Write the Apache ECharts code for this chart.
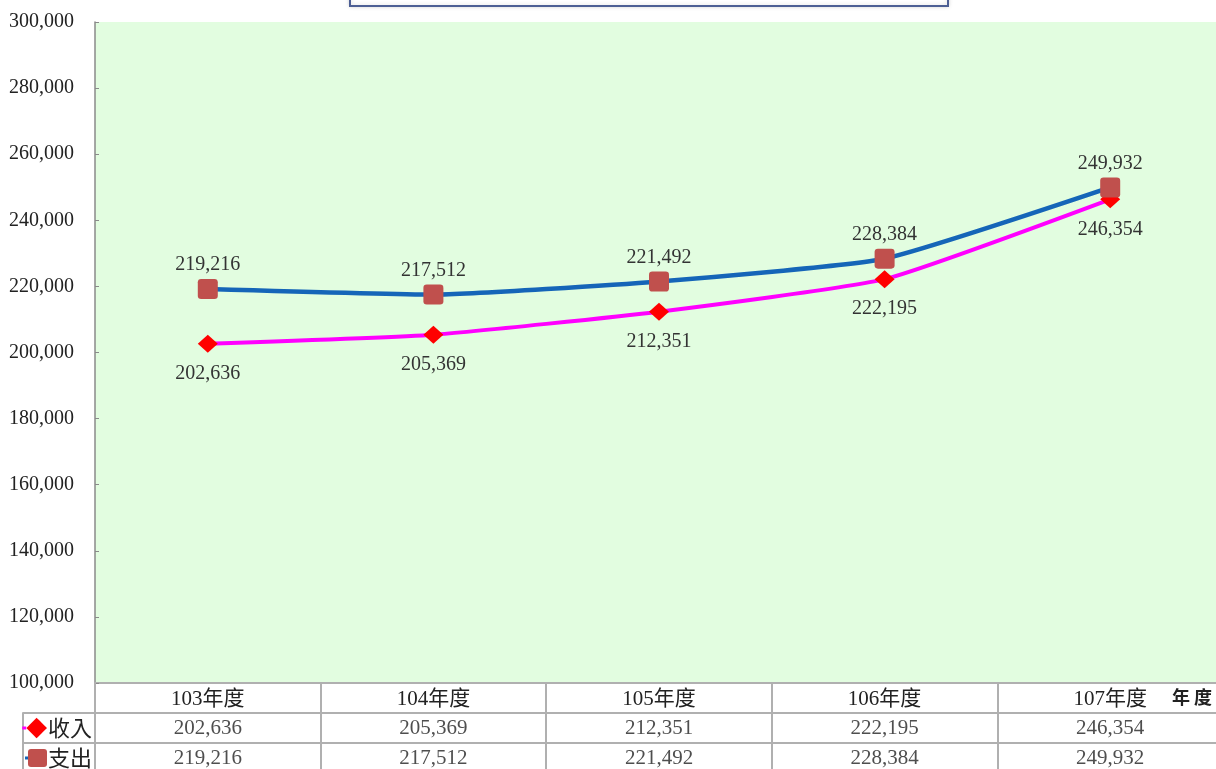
<!DOCTYPE html>
<html>
<head>
<meta charset="utf-8">
<script src="https://cdn.jsdelivr.net/npm/echarts@6/dist/echarts.min.js"></script>
<style>
  html, body { margin: 0; padding: 0; background: #fff; }
  #chart { width: 1216px; height: 769px; }
</style>
</head>
<body>
<div id="chart"></div>
<script>
// 年度
const years = ['103年度', '104年度', '105年度', '106年度', '107年度']
// 收入 / 支出
const income = [202636, 205369, 212351, 222195, 246354]
const expense = [219216, 217512, 221492, 228384, 249932]
const rowNames = ['收入', '支出']

const serif = '"Liberation Serif", "Times New Roman", "Noto Sans CJK TC", serif'
const fmt = v => Number(v).toLocaleString('en-US')
const gridLine = '#b0b0b0'

// 表格里的数值
const tableData = []
years.forEach((y, i) => {
  tableData.push([y, '收入', income[i]])
  tableData.push([y, '支出', expense[i]])
})

const chart = echarts.init(document.getElementById('chart'))
const option = {
  animation: false,
  textStyle: { fontFamily: serif },
  graphic: [
    {
      // 标题框（上方被裁掉）
      type: 'rect',
      shape: { x: 350, y: -30, width: 598, height: 36 },
      style: { fill: '#fff', stroke: '#4d5f94', lineWidth: 2, shadowBlur: 4, shadowColor: 'rgba(0,0,0,0.15)' }
    }
  ],
  grid: [
    { left: 95, top: 22, width: 1128, height: 661, backgroundColor: '#e2fde0', show: true, borderWidth: 0, outerBoundsMode: 'none' },
    { left: 95, top: 713, width: 1128, height: 60, show: false, outerBoundsMode: 'none' }
  ],
  xAxis: [
    {
      type: 'category',
      gridIndex: 0,
      data: years,
      boundaryGap: true,
      axisLine: { lineStyle: { color: gridLine, width: 2 } },
      axisTick: { show: true, length: 30, lineStyle: { color: gridLine, width: 2 } },
      axisLabel: { fontFamily: serif, fontSize: 21, color: '#222', margin: 6 },
      name: '年 度',
      nameLocation: 'end',
      nameGap: -51,
      nameTextStyle: {
        fontSize: 18, fontWeight: 'bold', color: '#222',
        verticalAlign: 'top', padding: [5, 0, 0, 0],
        fontFamily: '"Noto Sans CJK TC"'
      }
    },
    {
      type: 'category',
      gridIndex: 1,
      data: years,
      boundaryGap: true,
      axisLine: { show: false },
      axisTick: { show: false },
      axisLabel: { show: false },
      splitLine: { show: true, lineStyle: { color: gridLine, width: 2 } }
    }
  ],
  yAxis: [
    {
      type: 'value',
      gridIndex: 0,
      min: 100000,
      max: 300000,
      interval: 20000,
      axisLine: { show: true, lineStyle: { color: '#8a8a8a', width: 1.5 } },
      axisTick: { show: true, inside: true, length: 4, lineStyle: { color: '#8a8a8a' } },
      splitLine: { show: false },
      axisLabel: { formatter: fmt, fontFamily: serif, fontSize: 20, color: '#222', margin: 21 }
    },
    {
      type: 'category',
      gridIndex: 1,
      data: rowNames,
      inverse: true,
      axisLine: { show: true, lineStyle: { color: gridLine, width: 2 } },
      axisTick: { show: true, length: 72, lineStyle: { color: gridLine, width: 2 } },
      splitLine: { show: true, lineStyle: { color: gridLine, width: 2 } },
      axisLabel: {
        margin: 3,
        formatter: v => v === '收入'
          ? '{ln1|}{dm|◆}{t|' + v + '}'
          : '{ln2|}{sq|}{t|' + v + '}',
        rich: {
          ln1: { width: 4, height: 3, backgroundColor: '#ff00ff' },
          ln2: { width: 3, height: 3, backgroundColor: '#1565b8' },
          dm: { color: '#ff0000', fontSize: 27, fontFamily: '"DejaVu Sans"', height: 24 },
          sq: { width: 19, height: 18, backgroundColor: '#c0504d', borderRadius: 3 },
          t: { fontSize: 22, color: '#222', fontFamily: '"Noto Sans CJK TC"', padding: [0, 0, 0, 1] }
        }
      }
    },
    {
      // 图例列的左边框
      type: 'category',
      gridIndex: 1,
      data: rowNames,
      inverse: true,
      position: 'left',
      offset: 72,
      axisLine: { show: true, lineStyle: { color: gridLine, width: 2 } },
      axisTick: { show: false },
      axisLabel: { show: false }
    }
  ],
  series: [
    {
      name: '收入',
      type: 'line',
      xAxisIndex: 0,
      yAxisIndex: 0,
      data: income,
      smooth: 0.15,
      symbol: 'diamond',
      symbolSize: [20, 18],
      lineStyle: { color: '#ff00ff', width: 4 },
      itemStyle: { color: '#ff0000' },
      label: {
        show: true,
        position: 'bottom',
        distance: 11,
        formatter: p => fmt(p.value),
        fontFamily: serif,
        fontSize: 20,
        color: '#333'
      },
      z: 2
    },
    {
      name: '支出',
      type: 'line',
      xAxisIndex: 0,
      yAxisIndex: 0,
      data: expense,
      smooth: 0.15,
      symbol: 'path://M3,0 H15 Q18,0 18,3 V15 Q18,18 15,18 H3 Q0,18 0,15 V3 Q0,0 3,0 Z',
      symbolSize: 20,
      lineStyle: { color: '#1565b8', width: 4.5 },
      itemStyle: { color: '#c0504d' },
      label: {
        show: true,
        position: 'top',
        distance: 4,
        formatter: p => fmt(p.value),
        fontFamily: serif,
        fontSize: 20,
        color: '#333'
      },
      z: 3
    },
    {
      name: '数据表',
      type: 'scatter',
      xAxisIndex: 1,
      yAxisIndex: 1,
      data: tableData,
      symbolSize: 0,
      label: {
        show: true,
        position: 'inside',
        formatter: p => fmt(p.value[2]),
        fontFamily: serif,
        fontSize: 21,
        color: '#222'
      }
    }
  ]
}
chart.setOption(option)
</script>
</body>
</html>
